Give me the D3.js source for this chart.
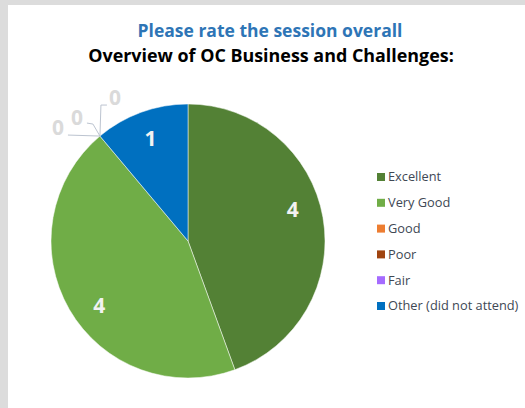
<!DOCTYPE html>
<html>
<head>
<meta charset="utf-8">
<script src="https://cdn.jsdelivr.net/npm/d3@7"></script>
<style>
  html, body { margin: 0; padding: 0; background: #dcdcdc; }
  svg { display: block; }
</style>
</head>
<body>
<div id="chart"></div>
<script>
(function () {
  const categories = ["Excellent", "Very Good", "Good", "Poor", "Fair", "Other (did not attend)"];
  const values = [4, 4, 0, 0, 0, 1];
  const colors = ["#538135", "#70ad47", "#ed7d31", "#a0440f", "#a56bff", "#0070c0"];

  const titleTop = "Please rate the session overall";
  const titleBottom = "Overview of OC Business and Challenges:";

  const width = 525;
  const height = 408;
  const cx = 188, cy = 241, radius = 137;

  const svg = d3.select("#chart").append("svg")
    .attr("width", width)
    .attr("height", height);

  // white panel inside the grey frame
  svg.append("rect")
    .attr("x", 8).attr("y", 5)
    .attr("width", width - 8).attr("height", height - 5)
    .attr("fill", "#ffffff");

  // ---------- Titles ----------
  svg.append("text")
    .attr("x", 270).attr("y", 37)
    .attr("text-anchor", "middle")
    .style("font-family", "'Open Sans', sans-serif")
    .style("font-weight", "bold")
    .style("font-size", "17.5px")
    .style("fill", "#2e75b6")
    .text(titleTop);

  svg.append("text")
    .attr("x", 271).attr("y", 62)
    .attr("text-anchor", "middle")
    .style("font-family", "'Open Sans', sans-serif")
    .style("font-weight", "bold")
    .style("font-size", "17.9px")
    .style("fill", "#000000")
    .text(titleBottom);

  // ---------- Pie ----------
  const data = categories.map((c, i) => ({ label: c, value: values[i], color: colors[i] }));

  const pie = d3.pie().value(d => d.value).sort(null);
  const arcData = pie(data);

  const arc = d3.arc().innerRadius(0).outerRadius(radius);

  const g = svg.append("g").attr("transform", `translate(${cx}, ${cy})`);

  g.selectAll("path.arc")
    .data(arcData.filter(d => d.value > 0))
    .join("path")
    .attr("class", "arc")
    .attr("d", arc)
    .attr("fill", d => d.data.color)
    .attr("stroke", "#ffffff")
    .attr("stroke-width", 0.5);

  // label placement: slightly off the mid angle, like the original layout
  const labelRadius = radius * 0.8;
  const labelAngleShift = { "Excellent": -7, "Very Good": -6 };
  const labelPos = d => {
    const a = (d.startAngle + d.endAngle) / 2 + (labelAngleShift[d.data.label] || 0) * Math.PI / 180;
    return [labelRadius * Math.sin(a), -labelRadius * Math.cos(a)];
  };

  g.selectAll("text.value")
    .data(arcData.filter(d => d.value > 0))
    .join("text")
    .attr("class", "value")
    .attr("transform", d => `translate(${labelPos(d)})`)
    .attr("text-anchor", "middle")
    .attr("dy", "0.36em")
    .style("font-family", "'Open Sans', sans-serif")
    .style("font-weight", "bold")
    .style("font-size", "21px")
    .style("fill", "#f2f2f2")
    .text(d => d.data.value);

  // zero slices: callout labels with leader lines
  const zeros = arcData.filter(d => d.value === 0);
  // leader bends relative to the point on the rim, one per zero slice
  const leaderBends = [
    [[-32, -1]],
    [[-7, -12], [-13, -13]],
    [[1, -31], [7, -31]]
  ];
  const labelOffsets = [[-42, -9], [-23, -19], [15, -39]];

  zeros.forEach((d, i) => {
    const a = d.startAngle;
    const p = [radius * Math.sin(a), -radius * Math.cos(a)];
    const pts = [p].concat(leaderBends[i].map(b => [p[0] + b[0], p[1] + b[1]]));
    g.append("path")
      .attr("d", d3.line()(pts))
      .attr("fill", "none")
      .attr("stroke", "#bcc4d0")
      .attr("stroke-width", 1);
    g.append("text")
      .attr("x", p[0] + labelOffsets[i][0])
      .attr("y", p[1] + labelOffsets[i][1])
      .attr("text-anchor", "middle")
      .attr("dy", "0.36em")
      .style("font-family", "'Open Sans', sans-serif")
      .style("font-weight", "bold")
      .style("font-size", "21px")
      .style("fill", "#dadada")
      .text(d.data.value);
  });

  // ---------- Legend ----------
  const legendY = d3.scalePoint()
    .domain(categories)
    .range([177, 306]);

  const legend = svg.append("g").selectAll("g.item")
    .data(data)
    .join("g")
    .attr("class", "item")
    .attr("transform", d => `translate(377, ${legendY(d.label)})`);

  legend.append("rect")
    .attr("x", 0).attr("y", -4)
    .attr("width", 8).attr("height", 8)
    .attr("fill", d => d.color);

  legend.append("text")
    .attr("x", 11)
    .attr("dy", "0.35em")
    .style("font-family", "'Open Sans', sans-serif")
    .style("font-size", "12.8px")
    .style("fill", "#404854")
    .text(d => d.label);
})();
</script>
</body>
</html>
